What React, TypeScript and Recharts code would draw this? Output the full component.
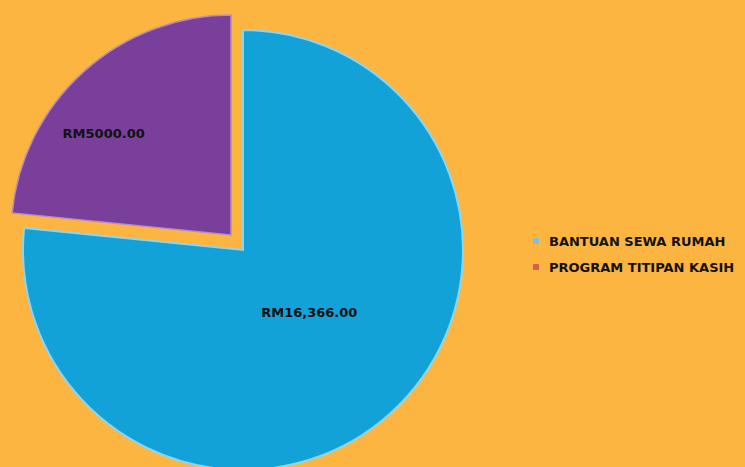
import { PieChart, Pie, Cell, Legend } from 'recharts';

const categories = ['BANTUAN SEWA RUMAH', 'PROGRAM TITIPAN KASIH'];
const amounts = [16366, 5000];
const amountLabels = ['RM16,366.00', 'RM5000.00'];

const sliceColors = ['#13A2D8', '#7A3F9B'];
const sliceStrokes = ['#8fd4ef', '#b98cc0'];
const markerColors = ['#86bfd0', '#d8604f'];

const data = categories.map((name, i) => ({ name, value: amounts[i], label: amountLabels[i] }));

const total = amounts.reduce((a, b) => a + b, 0);
// blue slice ends at 12 o'clock, purple fills the rest counter-clockwise
const start = 90 + (360 * amounts[1]) / total;

const RAD = Math.PI / 180;

// label tweaks per slice: radius ratio + nudge
const labelPos = [
  { r: 0.3, dx: 22, dy: 14 },
  { r: 0.7, dx: -24, dy: 13 },
];

function makeLabel(which: number) {
  return (props: any) => {
    const { cx, cy, midAngle, outerRadius, index } = props;
    if (index !== which) return null;
    const p = labelPos[index];
    const r = outerRadius * p.r;
    const x = cx + r * Math.cos(-midAngle * RAD) + p.dx;
    const y = cy + r * Math.sin(-midAngle * RAD) + p.dy;
    return (
      <text
        x={x}
        y={y}
        textAnchor="middle"
        dominantBaseline="central"
        fill="#111"
        fontFamily="DejaVu Sans"
        fontWeight="bold"
        fontSize={13}
      >
        {data[index].label}
      </text>
    );
  };
}

function LegendBox() {
  return (
    <div style={{ fontFamily: 'DejaVu Sans', fontWeight: 'bold', fontSize: 13, color: '#111' }}>
      {categories.map((c, i) => (
        <div key={c} style={{ display: 'flex', alignItems: 'center', height: 26, whiteSpace: 'nowrap' }}>
          <span
            style={{
              display: 'inline-block',
              width: 6,
              height: 6,
              background: markerColors[i],
              marginRight: 10,
            }}
          />
          <span>{c}</span>
        </div>
      ))}
    </div>
  );
}

export default function App() {
  return (
    <div style={{ position: 'absolute', left: 0, top: 0, width: 745, height: 467, background: '#FBB540', overflow: 'hidden' }}>
      <PieChart width={745} height={467} margin={{ top: 0, right: 0, bottom: 0, left: 0 }}>
        <Pie
          data={data}
          dataKey="value"
          cx={243}
          cy={250}
          outerRadius={220}
          startAngle={start}
          endAngle={start + 360}
          isAnimationActive={false}
          label={makeLabel(0)}
          labelLine={false}
        >
          {data.map((d, i) => (
            <Cell
              key={d.name}
              fill={i === 0 ? sliceColors[0] : 'transparent'}
              stroke={i === 0 ? sliceStrokes[0] : 'none'}
              strokeWidth={2}
            />
          ))}
        </Pie>
        <Pie
          data={data}
          dataKey="value"
          cx={231}
          cy={235}
          outerRadius={220}
          startAngle={start}
          endAngle={start + 360}
          isAnimationActive={false}
          label={makeLabel(1)}
          labelLine={false}
        >
          {data.map((d, i) => (
            <Cell
              key={d.name}
              fill={i === 1 ? sliceColors[1] : 'transparent'}
              stroke={i === 1 ? sliceStrokes[1] : 'none'}
              strokeWidth={1.5}
            />
          ))}
        </Pie>
        <Legend
          layout="vertical"
          content={<LegendBox />}
          wrapperStyle={{ left: 533, top: 228, width: 212 }}
        />
      </PieChart>
    </div>
  );
}
